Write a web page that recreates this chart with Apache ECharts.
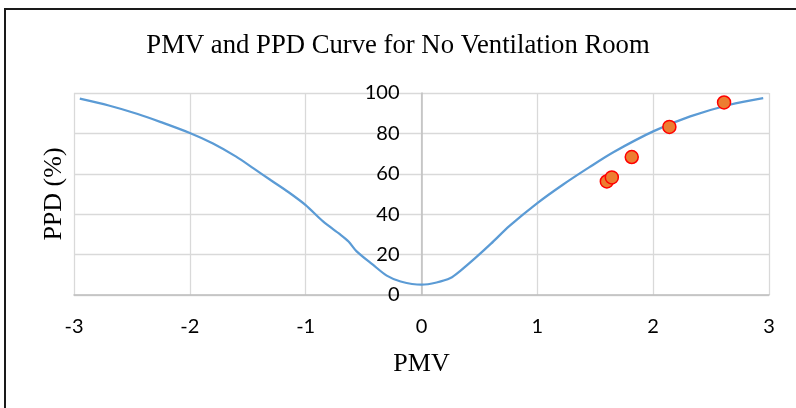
<!DOCTYPE html>
<html>
<head>
<meta charset="utf-8">
<script src="https://cdn.jsdelivr.net/npm/echarts@6/dist/echarts.min.js"></script>
<style>
  html, body { margin: 0; padding: 0; background: #fff; }
  #chart { width: 796px; height: 408px; }
</style>
</head>
<body>
<div id="chart"></div>
<script>
// PPD curve
const pmvCurve = [-2.95, -2.7, -2.45, -2.25, -2.0, -1.8, -1.6, -1.45, -1.3, -1.15, -1.0, -0.85, -0.7, -0.63, -0.56, -0.42, -0.3, -0.18, 0, 0.13, 0.25, 0.33, 0.48, 0.6, 0.76, 1.0, 1.22, 1.45, 1.66, 2.0, 2.32, 2.66, 2.95]
const ppdCurve = [97.2, 93.8, 89.6, 85.6, 80.2, 75, 68.5, 62.7, 56.8, 51, 44.5, 36.4, 29.9, 26.5, 21.6, 15, 9.6, 6.7, 5.1, 6.2, 8.4, 11.7, 19.1, 25.4, 34.2, 45.5, 54.6, 63.3, 70.8, 81, 88.4, 94.2, 97.5]

// measured points
const pmvMeasured = [1.60, 1.643, 1.815, 2.14, 2.612]
const ppdMeasured = [56.2, 58.2, 68.3, 83.2, 95.3]

const titleText = 'PMV and PPD Curve for No Ventilation Room'
const xName = 'PMV'
const yName = 'PPD (%)'

const gridLeft = 74
const gridRight = 27
const chartWidth = 796

const chart = echarts.init(document.getElementById('chart'))

const labelFont = { fontFamily: 'Lato', fontSize: 20, color: '#000' }
const nameFont = { fontFamily: 'Liberation Serif', fontSize: 26, color: '#000', verticalAlign: 'middle' }

// y axis sits at PMV = 0, in the middle of the plot
const yAxisOffset = -(chartWidth - gridLeft - gridRight) / 2

chart.setOption({
  animation: false,
  title: {
    text: titleText,
    left: 'center',
    top: 32,
    padding: 0,
    textStyle: { fontFamily: 'Liberation Serif', fontSize: 26.7, fontWeight: 'normal', color: '#000' },
  },
  graphic: [
    {
      type: 'rect',
      shape: { x: 5, y: 9, width: 900, height: 500 },
      style: { fill: null, stroke: '#1a1a1a', lineWidth: 2 },
      silent: true,
    },
  ],
  grid: { left: gridLeft, right: gridRight, top: 93, bottom: 113, outerBoundsMode: 'none' },
  xAxis: {
    type: 'value',
    min: -3,
    max: 3,
    interval: 1,
    name: xName,
    nameLocation: 'middle',
    nameGap: 69,
    nameTextStyle: nameFont,
    axisLine: { onZero: false, lineStyle: { color: '#bfbfbf', width: 1.5 } },
    axisTick: { show: false },
    axisLabel: { ...labelFont, margin: 22 },
    splitLine: { lineStyle: { color: '#d9d9d9', width: 1.3 } },
  },
  yAxis: {
    type: 'value',
    min: 0,
    max: 100,
    interval: 20,
    offset: yAxisOffset,
    name: yName,
    nameLocation: 'middle',
    nameRotate: 90,
    nameGap: 367,
    nameTextStyle: nameFont,
    axisLine: { onZero: false, lineStyle: { color: '#bfbfbf', width: 1.5 } },
    axisTick: { show: false },
    axisLabel: { ...labelFont, margin: 22 },
    splitLine: { lineStyle: { color: '#d9d9d9', width: 1.3 } },
  },
  series: [
    {
      type: 'line',
      data: pmvCurve.map((x, i) => [x, ppdCurve[i]]),
      showSymbol: false,
      smooth: 0.3,
      lineStyle: { color: '#5b9bd5', width: 2.25 },
      z: 2,
    },
    {
      type: 'scatter',
      data: pmvMeasured.map((x, i) => [x, ppdMeasured[i]]),
      symbolSize: 13,
      itemStyle: { color: '#ed7d31', borderColor: '#ff0000', borderWidth: 1.5, opacity: 1 },
      z: 3,
    },
  ],
})
</script>
</body>
</html>
